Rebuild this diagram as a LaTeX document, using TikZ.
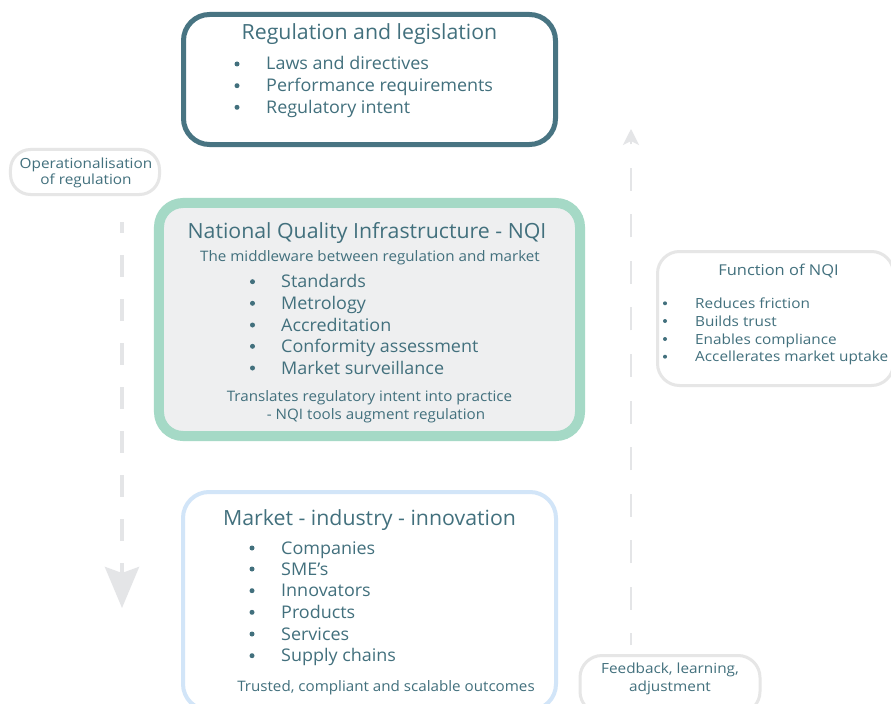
\documentclass[tikz,border=0pt]{standalone}
\usepackage{fontspec}
\setmainfont{Open Sans}
\newfontfamily\headfont[FakeStretch=1.018]{Open Sans}
\newfontfamily\itemfont[FakeStretch=1.03]{Open Sans}
\newfontfamily\subfont[FakeStretch=1.05]{Open Sans}
\newfontfamily\smallfont[FakeStretch=1.1]{Open Sans}
\usetikzlibrary{arrows.meta}

\definecolor{ink}{HTML}{42707D}
\definecolor{regline}{HTML}{487482}
\definecolor{nqiline}{HTML}{A5D9C6}
\definecolor{nqifill}{HTML}{EEEFF0}
\definecolor{mktline}{HTML}{D2E5F8}
\definecolor{paleline}{HTML}{E6E6E6}
\definecolor{flowline}{HTML}{E4E5E7}

\tikzset{
  panel/.style={draw, rectangle, inner sep=0pt, fill=white},
  headtext/.style={anchor=base, inner sep=0pt, text=ink, font=\headfont\fontsize{21}{24}\selectfont},
  itemtext/.style={anchor=base west, inner sep=0pt, text=ink, font=\itemfont\fontsize{17.5}{20}\selectfont},
  subtext/.style={anchor=base, inner sep=0pt, text=ink, font=\subfont\fontsize{14.5}{17}\selectfont},
  smalltext/.style={anchor=base, inner sep=0pt, text=ink, font=\smallfont\fontsize{14}{16}\selectfont},
  smallitem/.style={anchor=base west, inner sep=0pt, text=ink, font=\smallfont\fontsize{14}{16}\selectfont},
  dot/.style={circle, fill=ink, draw=none, inner sep=0pt, minimum size=5bp},
  smalldot/.style={circle, fill=ink, draw=none, inner sep=0pt, minimum size=4bp},
  flowarrow/.style={draw=flowline, dashed}
}

\begin{document}
\begin{tikzpicture}[x=1bp, y=-1bp]
\useasboundingbox (0,0) rectangle (891,704);
\clip (0,0) rectangle (891,704);
\fill[white] (0,0) rectangle (891,704);

% flow connectors
\coordinate (downStart) at (122,222);
\coordinate (downEnd) at (122,608);
\coordinate (upStart) at (631,645);
\coordinate (upEnd) at (631,129);
\draw[flowarrow, line width=4bp, dash pattern=on 22bp off 22bp, dash phase=11bp,
  -{Stealth[length=41bp, width=34bp, inset=6bp]}] (downStart) -- (downEnd);
\draw[flowarrow, line width=2.5bp, dash pattern=on 23bp off 23.5bp, dash phase=11bp,
  -{Stealth[length=16bp, width=16bp, inset=4bp]}] (upStart) -- (upEnd);

% regulation panel
\node[panel, draw=regline, line width=5bp, rounded corners=26bp,
  minimum width=372bp, minimum height=130bp] (reg) at (369.5,79.5) {};
\node[headtext] (regTitle) at (369.5,39.3) {Regulation and legislation};
\foreach \y/\t [count=\i] in {70/Laws and directives, 91.7/Performance requirements, 113.3/Regulatory intent}{
  \node[dot] (regDot\i) at (237,\y-6) {};
  \node[itemtext] (regItem\i) at (266,\y) {\t};
}

% operationalisation label
\node[panel, draw=paleline, line width=3bp, rounded corners=20bp,
  minimum width=149bp, minimum height=45bp] (oper) at (85,172) {};
\node[smalltext] (operA) at (86,169) {Operationalisation};
\node[smalltext] (operB) at (86,184.3) {of regulation};

% NQI panel
\node[panel, draw=nqiline, fill=nqifill, line width=10bp, rounded corners=24bp,
  minimum width=421bp, minimum height=233bp] (nqi) at (369.5,319.5) {};
\node[headtext] (nqiTitle) at (367,238.3) {National Quality Infrastructure - NQI};
\node[subtext] (nqiSub) at (370,261.7) {The middleware between regulation and market};
\foreach \y/\t [count=\i] in {287.7/Standards, 309.3/Metrology, 331/Accreditation, 352.3/Conformity assessment, 374/Market surveillance}{
  \node[dot] (nqiDot\i) at (252.5,\y-6) {};
  \node[itemtext] (nqiItem\i) at (281,\y) {\t};
}
\node[subtext] (nqiFootA) at (369.5,401.7) {Translates regulatory intent into practice};
\node[subtext] (nqiFootB) at (376,419.3) {- NQI tools augment regulation};

% function panel
\node[panel, draw=paleline, line width=3bp, rounded corners=22bp,
  minimum width=236bp, minimum height=134bp] (func) at (775.5,318.5) {};
\node[smalltext, font=\smallfont\fontsize{15}{17}\selectfont] (funcTitle) at (778.5,275) {Function of NQI};
\foreach \y/\t [count=\i] in {308.3/Reduces friction, 326/Builds trust, 344/Enables compliance, 361.7/Accellerates market uptake}{
  \node[smalldot] (funcDot\i) at (665,\y-5) {};
  \node[smallitem] (funcItem\i) at (695,\y) {\t};
}

% market panel
\node[panel, draw=mktline, line width=4bp, rounded corners=26bp,
  minimum width=373bp, minimum height=218bp] (mkt) at (369.5,601) {};
\node[headtext] (mktTitle) at (369.5,525.7) {Market - industry - innovation};
\foreach \y/\t [count=\i] in {554/Companies, 575/SME’s, 596.7/Innovators, 618.3/Products, 640/Services, 661.7/Supply chains}{
  \node[dot] (mktDot\i) at (252,\y-6) {};
  \node[itemtext] (mktItem\i) at (281,\y) {\t};
}
\node[subtext] (mktFoot) at (386,691) {Trusted, compliant and scalable outcomes};

% feedback label
\node[panel, draw=paleline, line width=3bp, rounded corners=22bp,
  minimum width=180bp, minimum height=58bp] (feed) at (670,684.5) {};
\node[smalltext] (feedA) at (670,673.3) {Feedback, learning,};
\node[smalltext] (feedB) at (670,691.7) {adjustment};
\end{tikzpicture}
\end{document}
